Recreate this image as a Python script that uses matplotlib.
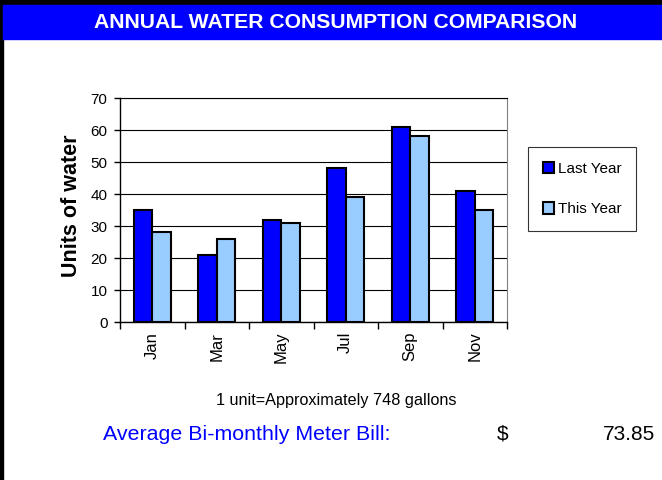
import numpy as np
import matplotlib.pyplot as plt
from matplotlib.patches import Rectangle

plt.rcParams['font.family'] = ['Liberation Sans', 'DejaVu Sans']

# data
months = ['Jan', 'Mar', 'May', 'Jul', 'Sep', 'Nov']
last_year = [35, 21, 32, 48, 61, 41]
this_year = [28, 26, 31, 39, 58, 35]
y_ticks = [0, 10, 20, 30, 40, 50, 60, 70]

BLUE = '#0000FF'
LIGHT = '#99CCFF'

fig = plt.figure(figsize=(6.62, 4.8), dpi=100)

# frame + title band
fig.patches.append(Rectangle((0, 0), 3 / 662, 1, transform=fig.transFigure,
                             color='black', zorder=0))
fig.patches.append(Rectangle((0, 1 - 5 / 480), 1, 5 / 480, transform=fig.transFigure,
                             color='black', zorder=0))
fig.patches.append(Rectangle((3 / 662, 1 - 39 / 480), 1, 34 / 480,
                             transform=fig.transFigure, color=BLUE, zorder=0))
fig.text(336 / 662, 1 - 22 / 480, 'ANNUAL WATER CONSUMPTION COMPARISON',
         color='white', fontsize=15.2, fontweight='bold', ha='center', va='center')

ax = fig.add_axes([120 / 662, 1 - 322 / 480, 387 / 662, 224 / 480])
x = np.arange(len(months))
w = 0.29
ax.bar(x - w / 2, last_year, w, color=BLUE, edgecolor='black', linewidth=1.5,
       label='Last Year', zorder=3)
ax.bar(x + w / 2, this_year, w, color=LIGHT, edgecolor='black', linewidth=1.5,
       label='This Year', zorder=3)

ax.set_xlim(-0.5, len(months) - 0.5)
ax.set_ylim(0, 70)
ax.set_yticks(y_ticks)
ax.yaxis.grid(True, color='black', linewidth=0.8, zorder=0)
ax.set_axisbelow(True)
ax.set_xticks(x)
ax.set_xticklabels(months, rotation=90)
ax.set_xticks(np.arange(-0.5, len(months)), minor=True)
ax.tick_params(axis='x', which='major', length=0, pad=7, labelsize=12)
ax.tick_params(axis='x', which='minor', length=5, width=1, direction='out')
ax.tick_params(axis='y', length=4, width=1, labelsize=11, pad=5)
ax.spines['left'].set_linewidth(1)
ax.spines['bottom'].set_linewidth(1)
ax.spines['right'].set_color('#808080')
ax.spines['top'].set_color('black')
ax.spines['top'].set_linewidth(0.8)
ax.set_ylabel('Units of water', fontsize=15.5, fontweight='bold')
ax.yaxis.set_label_coords(-38 / 387, 0.52)

leg = ax.legend(loc='upper left', bbox_to_anchor=(528 / 662, 1 - 147 / 480),
                bbox_transform=fig.transFigure, fontsize=11, frameon=True,
                fancybox=False, edgecolor='black', handlelength=0.75,
                handleheight=0.75, handletextpad=0.25, labelspacing=1.75,
                borderpad=0.95, borderaxespad=0)
leg.get_frame().set_linewidth(0.8)

fig.text(336 / 662, 1 - 401 / 480, '1 unit=Approximately 748 gallons',
         fontsize=11.7, ha='center', va='center')
fig.text(103 / 662, 1 - 434 / 480, 'Average Bi-monthly Meter Bill:',
         fontsize=15.4, color=BLUE, ha='left', va='center')
fig.text(497 / 662, 1 - 434 / 480, '$', fontsize=15, ha='left', va='center')
fig.text(655 / 662, 1 - 434 / 480, '73.85', fontsize=15, ha='right', va='center')

fig.savefig('out.png', dpi=100)
